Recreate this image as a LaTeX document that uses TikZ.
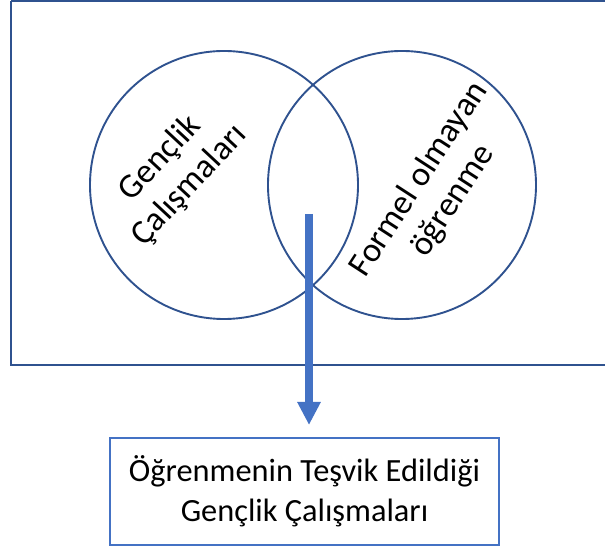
\documentclass[tikz,border=0pt]{standalone}
\usepackage{fontspec}
\setmainfont{Carlito}
\usetikzlibrary{arrows.meta}
\definecolor{darkblue}{HTML}{2F528F}
\definecolor{midblue}{HTML}{4472C4}
\tikzset{
  frame/.style={draw=darkblue, line width=2.6bp},
  setcircle/.style={draw=darkblue, line width=1.9bp, circle, minimum size=268bp, inner sep=0pt},
  rottext/.style={align=center, font=\fontsize{34.5}{40}\selectfont, inner sep=0pt},
  resultbox/.style={draw=midblue, line width=1.6bp, minimum width=389bp, minimum height=107bp, align=center, font=\fontsize{32.5}{40}\selectfont, inner sep=0pt},
  bigarrow/.style={draw=midblue, line width=8bp, -{Triangle[width=22bp, length=23bp]}}
}
\begin{document}
\begin{tikzpicture}[x=1bp, y=1bp]
\useasboundingbox (0,0) rectangle (605,550);
% outer frame (image coords: y_tikz = 550 - y_img)
\draw[frame] (11,549.2) -- (11,184.8) -- (620,184.8);
\draw[frame] (11,549.2) -- (620,549.2);
% circles
\node[setcircle] (left) at (224,365) {};
\node[setcircle] (right) at (402,365) {};
% labels
\node[rottext, rotate=47] (lt) at (175,378) {Gençlik\\Çalışmaları};
\node[rottext, rotate=57] (rt) at (436,360) {Formel olmayan\\öğrenme};
% result box
\node[resultbox] (res) at (304.5,58.5) {Öğrenmenin Teşvik Edildiği\\Gençlik Çalışmaları};
% arrow
\coordinate (start) at (309,336);
\coordinate (tip) at (309,125);
\draw[bigarrow] (start) -- (tip);
\end{tikzpicture}
\end{document}
